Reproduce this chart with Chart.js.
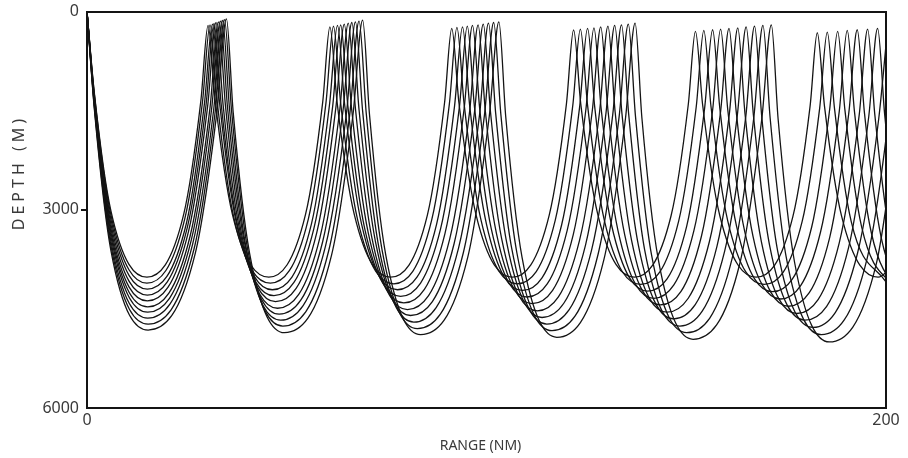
<!DOCTYPE html>
<html><head><meta charset="utf-8">
<script src="https://cdn.jsdelivr.net/npm/chart.js@4.4.1/dist/chart.umd.min.js"></script>
<style>html,body{margin:0;padding:0;background:#fff}#wrap{width:908px;height:458px;position:relative}</style>
</head><body><div id="wrap"><canvas id="c"></canvas></div>
<script>
// Ray paths: range (nm) and depth (m) at turning points and leg points
const ray1Range = [0,1.8,6.0,15.0,24.2,28.5,30.3,32.1,36.4,45.5,54.7,59.0,60.8,62.6,66.9,76.0,85.2,89.5,91.3,93.1,97.4,106.5,115.7,120.0,121.8,123.6,127.9,137.0,146.2,150.5,152.3,154.1,158.4,167.5,176.7,181.0,182.8,184.6,188.9,198.0,207.2];
const ray1Depth = [0,1210,3020,4020,3070,1350,210,1350,3070,4020,3070,1370,232,1370,3070,4020,3080,1380,254,1380,3080,4020,3080,1400,276,1400,3080,4020,3090,1410,298,1410,3090,4020,3100,1430,320,1430,3100,4020,3100];
const ray2Range = [0,1.8,6.0,15.0,24.5,28.9,30.8,32.6,36.8,45.9,55.4,59.8,61.7,63.5,67.7,76.8,86.3,90.7,92.6,94.4,98.6,107.7,117.2,121.6,123.5,125.3,129.5,138.6,148.1,152.5,154.4,156.2,160.4,169.5,179.0,183.4,185.3,187.1,191.3,200.4];
const ray2Depth = [0,1230,3080,4110,3130,1370,200,1370,3130,4110,3140,1390,220,1390,3140,4120,3150,1400,240,1400,3150,4120,3160,1420,265,1420,3160,4130,3170,1440,285,1440,3170,4130,3180,1460,310,1460,3180,4130];
const ray3Range = [0,1.8,6.0,15.1,24.9,29.4,31.4,33.2,37.4,46.4,56.2,60.7,62.7,64.5,68.7,77.7,87.5,92.0,94.0,95.8,100.0,109.0,118.8,123.3,125.3,127.1,131.3,140.3,150.1,154.6,156.6,158.4,162.6,171.6,181.4,185.9,187.9,189.7,193.9,202.9];
const ray3Depth = [0,1260,3150,4200,3200,1390,190,1390,3200,4210,3210,1410,210,1410,3210,4210,3220,1430,230,1430,3220,4220,3230,1450,255,1450,3230,4230,3250,1460,275,1460,3250,4240,3260,1480,300,1480,3260,4250];
const ray4Range = [0,1.8,6.0,15.1,25.1,29.8,31.8,33.6,37.8,46.8,56.8,61.5,63.5,65.3,69.5,78.5,88.5,93.2,95.2,97.0,101.2,110.2,120.2,124.9,126.9,128.7,132.9,141.9,151.9,156.6,158.6,160.4,164.6,173.6,183.6,188.3,190.3,192.1,196.3,205.3];
const ray4Depth = [0,1290,3220,4290,3270,1410,180,1410,3270,4300,3280,1430,200,1430,3280,4310,3290,1450,220,1450,3290,4320,3310,1470,245,1470,3310,4340,3320,1490,265,1490,3320,4350,3340,1510,285,1510,3340,4360];
const ray5Range = [0,1.8,6.0,15.1,25.4,30.2,32.3,34.1,38.3,47.2,57.5,62.3,64.4,66.2,70.4,79.3,89.6,94.4,96.5,98.3,102.5,111.4,121.7,126.5,128.6,130.4,134.6,143.5,153.8,158.6,160.7,162.5,166.7,175.6,185.9,190.7,192.8,194.6,198.8,207.7];
const ray5Depth = [0,1310,3290,4380,3330,1430,165,1430,3330,4390,3350,1450,190,1450,3350,4410,3360,1470,210,1470,3360,4420,3380,1490,230,1490,3380,4440,3400,1510,255,1510,3400,4460,3420,1530,275,1530,3420,4470];
const ray6Range = [0,1.8,6.0,15.2,25.8,30.8,32.9,34.7,38.8,47.7,58.3,63.3,65.4,67.2,71.3,80.2,90.8,95.8,97.9,99.7,103.8,112.7,123.3,128.3,130.4,132.2,136.3,145.2,155.8,160.8,162.9,164.7,168.8,177.7,188.3,193.3,195.4,197.2,201.3,210.2];
const ray6Depth = [0,1340,3350,4470,3400,1450,155,1450,3400,4490,3420,1470,175,1470,3420,4510,3440,1500,200,1500,3440,4530,3460,1520,220,1520,3460,4550,3480,1540,245,1540,3480,4570,3500,1560,265,1560,3500,4590];
const ray7Range = [0,1.8,6.0,15.2,26.1,31.2,33.4,35.2,39.3,48.1,59.0,64.1,66.3,68.1,72.2,81.0,91.9,97.0,99.2,101.0,105.1,113.9,124.8,129.9,132.1,133.9,138.0,146.8,157.7,162.8,165.0,166.8,170.9,179.7,190.6,195.7,197.9,199.7,203.8,212.6];
const ray7Depth = [0,1370,3410,4550,3460,1470,145,1470,3460,4580,3480,1490,165,1490,3480,4600,3510,1520,190,1520,3510,4630,3530,1540,210,1540,3530,4650,3550,1560,230,1560,3550,4670,3580,1580,255,1580,3580,4700];
const ray8Range = [0,1.8,6.0,15.2,26.4,31.7,33.9,35.7,39.7,48.5,59.7,65.0,67.2,69.0,73.0,81.8,93.0,98.3,100.5,102.3,106.3,115.1,126.3,131.6,133.8,135.6,139.6,148.4,159.6,164.9,167.1,168.9,172.9,181.7,192.9,198.2,200.4];
const ray8Depth = [0,1390,3480,4640,3530,1490,135,1490,3530,4670,3550,1510,155,1510,3550,4700,3580,1540,175,1540,3580,4730,3610,1560,200,1560,3610,4760,3630,1590,220,1590,3630,4780,3650,1610,245];
const ray9Range = [0,1.8,6.0,15.3,26.8,32.1,34.4,36.2,40.2,49.0,60.5,65.8,68.1,69.9,73.9,82.7,94.2,99.5,101.8,103.6,107.6,116.4,127.9,133.2,135.5,137.3,141.3,150.1,161.6,166.9,169.2,171.0,175.0,183.8,195.3,200.6,202.9];
const ray9Depth = [0,1420,3550,4730,3590,1510,120,1510,3590,4760,3620,1540,145,1540,3620,4800,3650,1560,165,1560,3650,4830,3680,1590,190,1590,3680,4860,3710,1610,210,1610,3710,4890,3730,1630,230];
const ray10Range = [0,1.8,6.0,15.3,27.1,32.5,34.9,36.6,40.7,49.4,61.2,66.6,69.0,70.7,74.8,83.5,95.3,100.7,103.1,104.8,108.9,117.6,129.4,134.8,137.2,138.9,143.0,151.7,163.5,168.9,171.3,173.0,177.1,185.8,197.6,203.0];
const ray10Depth = [0,1450,3620,4820,3660,1530,110,1530,3660,4860,3690,1550,130,1550,3690,4890,3720,1580,155,1580,3720,4930,3750,1610,175,1610,3750,4960,3790,1630,200,1630,3790,5000,3810,1650];

const rangeTicks = [0, 200];
const depthTicks = [0, 3000, 6000];
const xTitle = 'RANGE (NM)';
const yTitle = 'DEPTH (M)';

const rays = [
  [ray1Range, ray1Depth], [ray2Range, ray2Depth], [ray3Range, ray3Depth], [ray4Range, ray4Depth],
  [ray5Range, ray5Depth], [ray6Range, ray6Depth], [ray7Range, ray7Depth], [ray8Range, ray8Depth],
  [ray9Range, ray9Depth], [ray10Range, ray10Depth]
];

const INK = '#141414';
const LABEL = '#3a3a3a';
const FONT = '"Noto Sans", "DejaVu Sans", sans-serif';

const datasets = rays.map(([r, d], i) => ({
  label: 'Ray ' + (i + 1),
  data: r.map((x, k) => ({ x: x, y: d[k] })),
  borderColor: INK,
  borderWidth: 1.3,
  pointRadius: 0,
  fill: false,
  cubicInterpolationMode: 'monotone'
}));

const axisTitles = {
  id: 'axisTitles',
  afterDraw(chart) {
    const { ctx, chartArea: a } = chart;
    ctx.save();
    ctx.fillStyle = LABEL;
    ctx.textAlign = 'center';
    ctx.textBaseline = 'middle';
    ctx.font = '14px ' + FONT;
    ctx.letterSpacing = '0px';
    ctx.fillText(xTitle, (a.left + a.right) / 2 - 6, a.bottom + 38);
    ctx.font = '16px ' + FONT;
    ctx.letterSpacing = '4px';
    ctx.translate(a.left - 68, a.top + 163);
    ctx.rotate(-Math.PI / 2);
    ctx.fillText(yTitle, 2, 0);
    ctx.restore();
  }
};

const frameAxis = (pos) => ({
  type: 'linear', position: pos, display: true,
  ticks: { display: false }, grid: { display: false },
  border: { display: true, color: INK, width: 2 },
  afterFit: s => { if (pos === 'top') s.height = 0; else s.width = 0; }
});

new Chart(document.getElementById('c'), {
  type: 'line',
  data: { datasets },
  options: {
    responsive: true, maintainAspectRatio: false, animation: false,
    parsing: false, normalized: true,
    layout: { padding: { left: 0, right: 22, top: 11, bottom: 0 } },
    plugins: { legend: { display: false }, tooltip: { enabled: false }, title: { display: false } },
    scales: {
      x: {
        type: 'linear', position: 'bottom', min: 0, max: 200,
        afterBuildTicks: s => { s.ticks = rangeTicks.map(v => ({ value: v })); },
        ticks: { font: { family: FONT, size: 16 }, color: LABEL, padding: 3, maxRotation: 0, autoSkip: false, callback: v => String(v) },
        grid: { display: false, drawTicks: false },
        border: { display: true, color: INK, width: 2 },
        afterFit: s => { s.height = 50; }
      },
      y: {
        type: 'linear', position: 'left', reverse: true, min: 0, max: 6000,
        afterBuildTicks: s => { s.ticks = depthTicks.map(v => ({ value: v })); },
        ticks: { font: { family: FONT, size: 16 }, color: LABEL, padding: 2, autoSkip: false, callback: v => String(v) },
        grid: { drawOnChartArea: false, tickLength: 6, lineWidth: 2,
                color: c => (c.tick && c.tick.value === 3000) ? INK : 'rgba(0,0,0,0)' },
        border: { display: true, color: INK, width: 2 },
        afterFit: s => { s.width = 87; }
      },
      xTop: frameAxis('top'),
      yRight: frameAxis('right')
    }
  },
  plugins: [axisTitles]
});
</script>
</body></html>
